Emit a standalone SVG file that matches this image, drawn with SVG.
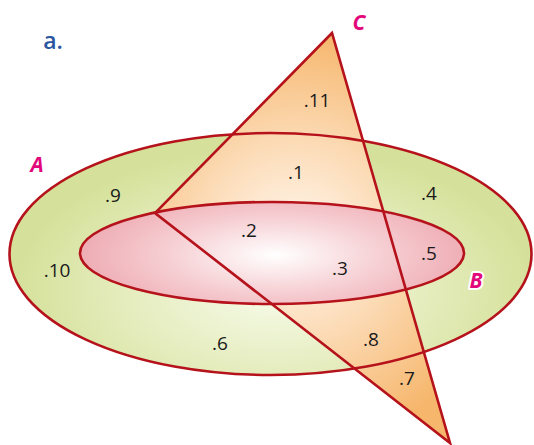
<svg xmlns="http://www.w3.org/2000/svg" width="534" height="445" viewBox="0 0 534 445">
<defs>
<radialGradient id="gA" gradientUnits="userSpaceOnUse" cx="275" cy="290" r="260" gradientTransform="translate(275 290) scale(1 0.55) translate(-275 -290)">
<stop offset="0" stop-color="#f7fbea"/>
<stop offset="0.6" stop-color="#e4ecbc"/>
<stop offset="1" stop-color="#d5e19a"/>
</radialGradient>
<radialGradient id="gB" gradientUnits="userSpaceOnUse" cx="275" cy="255" r="190" gradientTransform="translate(275 255) scale(1 0.35) translate(-275 -255)">
<stop offset="0" stop-color="#ffffff"/>
<stop offset="0.55" stop-color="#f6d0d4"/>
<stop offset="1" stop-color="#efaeb6"/>
</radialGradient>
<radialGradient id="gC" gradientUnits="userSpaceOnUse" cx="295" cy="240" r="210">
<stop offset="0" stop-color="#fff8f0"/>
<stop offset="0.45" stop-color="#fcdcb8"/>
<stop offset="1" stop-color="#f6b66c"/>
</radialGradient>
<style>
.edge{fill:none;stroke:#b5121b;stroke-width:2.6;stroke-linejoin:miter}
.num{font-family:"Open Sans","Liberation Sans",sans-serif;font-size:19px;fill:#1a1a1a;text-anchor:middle}
.set{font-family:"Open Sans","Liberation Sans",sans-serif;font-size:21px;font-weight:bold;font-style:italic;fill:#e2087c;text-anchor:middle}
</style>
</defs>
<g id="A">
<ellipse cx="270.5" cy="254" rx="261" ry="121" fill="url(#gA)"/>
</g>
<g id="C">
<polygon points="332,33 155,213 450,443" fill="url(#gC)"/>
</g>
<g id="B">
<ellipse cx="272" cy="253" rx="192" ry="51" fill="url(#gB)"/>
</g>
<g id="outlines">
<ellipse class="edge" cx="270.5" cy="254" rx="261" ry="121"/>
<polygon class="edge" points="332,33 155,213 450,443"/>
<ellipse class="edge" cx="272" cy="253" rx="192" ry="51"/>
</g>
<g id="connectors"/>
<g id="labels">
<text x="53" y="49" font-family="Open Sans, Liberation Sans, sans-serif" font-size="23" font-weight="600" fill="#2a55a0" text-anchor="middle">a.</text>
<text class="set" x="37" y="172">A</text>
<text class="set" x="359" y="30">C</text>
<text class="set" x="476" y="288" stroke="#ffffff" stroke-width="4" paint-order="stroke" stroke-linejoin="round">B</text>
<text class="num" x="317" y="107">.11</text>
<text class="num" x="296" y="179">.1</text>
<text class="num" x="113" y="202">.9</text>
<text class="num" x="429" y="200">.4</text>
<text class="num" x="249" y="237">.2</text>
<text class="num" x="429" y="260">.5</text>
<text class="num" x="57" y="277">.10</text>
<text class="num" x="340" y="275">.3</text>
<text class="num" x="220" y="350">.6</text>
<text class="num" x="371" y="346">.8</text>
<text class="num" x="407" y="385">.7</text>
</g>
</svg>
